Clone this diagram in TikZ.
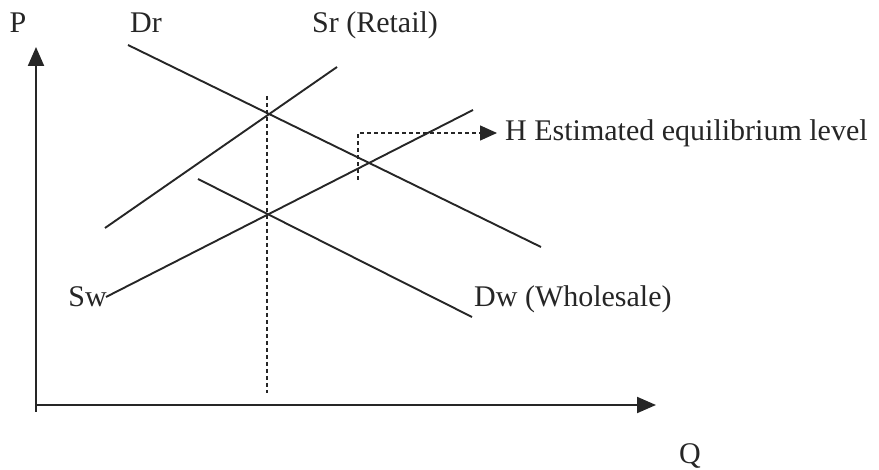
\documentclass[tikz,border=0pt]{standalone}
\usepackage{fontspec}
\setmainfont{Liberation Serif}
\usetikzlibrary{arrows.meta}
\begin{document}
\begin{tikzpicture}[x=1pt,y=-1pt,
  curve/.style={line width=1.9pt,black!85},
  axis/.style={line width=2pt,black!85,-{Triangle[length=19pt,width=16pt]}},
  guide/.style={line width=1.4pt,black!85,dash pattern=on 4pt off 3pt},
  lbl/.style={font=\fontsize{30}{33}\selectfont,text=black!85,inner sep=0pt}]
\useasboundingbox (0,0) rectangle (879,470);
% axes
\coordinate (O) at (36,405);
\coordinate (Ptop) at (36,47);
\coordinate (Qend) at (656,405);
\coordinate (Obot) at (36,412);
\draw[axis] (Obot) -- (Ptop);
\draw[axis] (O) -- (Qend);
\node[lbl,anchor=base] (P) at (18,33) {P};
\node[lbl,anchor=base] (Q) at (690,464) {Q};
% curves
\coordinate (Dr1) at (128,45);
\coordinate (Dr2) at (541,247);
\coordinate (Sr1) at (105,228);
\coordinate (Sr2) at (337,67);
\coordinate (Sw1) at (106,297);
\coordinate (Sw2) at (473,110);
\coordinate (Dw1) at (198,179);
\coordinate (Dw2) at (472,317);
\draw[curve] (Dr1) -- (Dr2);
\draw[curve] (Sr1) -- (Sr2);
\draw[curve] (Sw1) -- (Sw2);
\draw[curve] (Dw1) -- (Dw2);
\node[lbl,anchor=base] (Drl) at (146,33) {Dr};
\node[lbl,anchor=base] (Srl) at (375,33) {Sr (Retail)};
\node[lbl,anchor=base east] (Swl) at (107,307) {Sw};
\node[lbl,anchor=base west] (Dwl) at (474,307) {Dw (Wholesale)};
% guides
\coordinate (V1) at (267,96);
\coordinate (V2) at (267,393);
\draw[guide] (V1) -- (V2);
\coordinate (H1) at (358,180);
\coordinate (H2) at (358,133);
\node[lbl,anchor=west] (Hl) at (505,133) {H Estimated equilibrium level};
\draw[guide,-{Triangle[length=17pt,width=15pt]}] (H1) -- (H2) -- ([xshift=-8pt]Hl.west);
\end{tikzpicture}
\end{document}
